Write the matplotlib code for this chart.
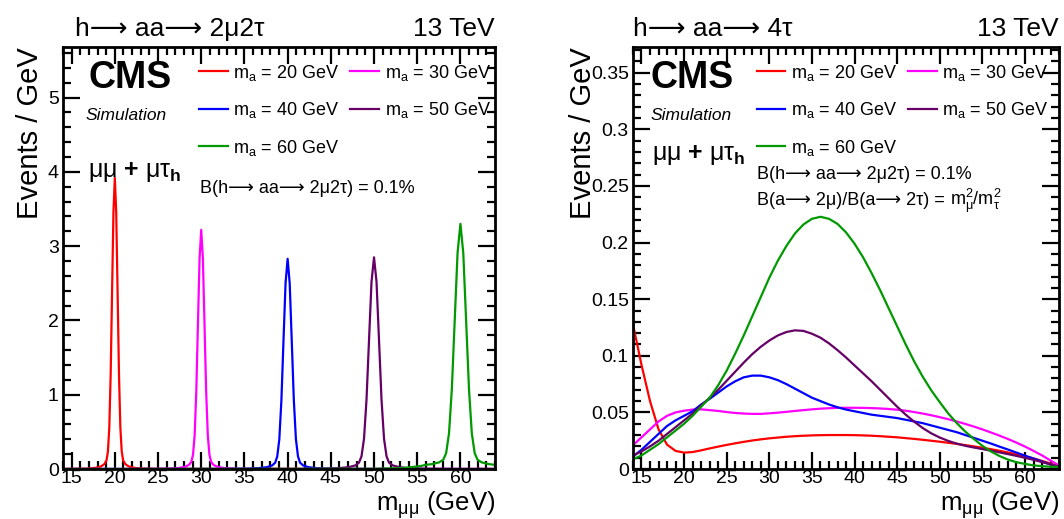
import matplotlib
matplotlib.use('Agg')
import matplotlib.pyplot as plt
from matplotlib.ticker import MultipleLocator, FuncFormatter

plt.rcParams['font.family'] = ['Liberation Sans', 'DejaVu Sans']
plt.rcParams['mathtext.fontset'] = 'custom'
plt.rcParams['mathtext.rm'] = 'Liberation Sans'
plt.rcParams['mathtext.it'] = 'Liberation Sans:italic'
plt.rcParams['mathtext.bf'] = 'Liberation Sans:bold'
plt.rcParams['mathtext.default'] = 'regular'

# --- datos: h -> aa -> 2mu2tau (picos estrechos) ---
x20 = [14, 15.2, 16.8, 17.76, 18.4, 18.8, 19.04, 19.2, 19.36, 19.52, 19.68, 19.84, 20,
       20.16, 20.32, 20.48, 20.64, 20.8, 20.96, 21.2, 21.6, 22.24, 23.2, 24.8, 64]
y20 = [0, 0.002, 0.006, 0.016, 0.035, 0.067, 0.118, 0.235, 0.557, 1.28, 2.38, 3.46, 3.92,
       3.46, 2.38, 1.28, 0.557, 0.235, 0.118, 0.067, 0.035, 0.016, 0.006, 0.002, 0]
x30 = [14, 24.3, 26.2, 27.34, 28.1, 28.575, 28.86, 29.05, 29.24, 29.43, 29.62, 29.81, 30,
       30.19, 30.38, 30.57, 30.76, 30.95, 31.14, 31.425, 31.9, 32.66, 33.8, 35.7, 64]
y30 = [0, 0.0016, 0.005, 0.013, 0.029, 0.055, 0.097, 0.193, 0.457, 1.05, 1.95, 2.84, 3.22,
       2.84, 1.95, 1.05, 0.457, 0.193, 0.097, 0.055, 0.029, 0.013, 0.005, 0.0016, 0]
x40 = [14, 32.8, 35.2, 36.64, 37.6, 38.2, 38.56, 38.8, 39.04, 39.28, 39.52, 39.76, 40,
       40.24, 40.48, 40.72, 40.96, 41.2, 41.44, 41.8, 42.4, 43.36, 44.8, 47.2, 64]
y40 = [0, 0.0014, 0.004, 0.011, 0.025, 0.048, 0.085, 0.17, 0.402, 0.925, 1.72, 2.5, 2.83,
       2.5, 1.72, 0.925, 0.402, 0.17, 0.085, 0.048, 0.025, 0.011, 0.004, 0.0014, 0]
x50 = [14, 41.3, 44.2, 45.94, 47.1, 47.825, 48.26, 48.55, 48.84, 49.13, 49.42, 49.71, 50,
       50.29, 50.58, 50.87, 51.16, 51.45, 51.74, 52.175, 52.9, 54.06, 55.8, 58.7, 64]
y50 = [0, 0.0014, 0.0043, 0.0114, 0.026, 0.048, 0.0855, 0.171, 0.405, 0.93, 1.73, 2.52, 2.85,
       2.52, 1.73, 0.93, 0.405, 0.171, 0.0855, 0.048, 0.026, 0.0114, 0.0043, 0.0014, 0]
x60 = [14, 50.1, 53.4, 55.38, 56, 56.7, 57.525, 58.02, 58.35, 58.68, 59.01, 59.34, 59.67, 60,
       60.33, 60.66, 60.99, 61.32, 61.65, 61.98, 62.475, 63.3, 64]
y60 = [0, 0.003, 0.013, 0.04, 0.056, 0.066, 0.089, 0.125, 0.215, 0.48, 1.08, 2.0, 2.91, 3.3,
       2.91, 2.0, 1.08, 0.48, 0.215, 0.125, 0.089, 0.066, 0.056]

# --- datos: h -> aa -> 4tau (distribuciones anchas), un punto por GeV ---
m_4tau = list(range(14, 65))
r20 = [0.128, 0.092, 0.060, 0.035, 0.0215, 0.016, 0.0145, 0.015, 0.0165, 0.0182, 0.0198,
       0.0213, 0.0227, 0.024, 0.0252, 0.0262, 0.0271, 0.0278, 0.0285, 0.029, 0.0294, 0.0297,
       0.0299, 0.030, 0.030, 0.030, 0.0299, 0.0297, 0.0294, 0.029, 0.0285, 0.028, 0.0273,
       0.0266, 0.0258, 0.025, 0.0241, 0.0232, 0.0222, 0.0211, 0.020, 0.0188, 0.0175, 0.0161,
       0.0146, 0.013, 0.0113, 0.0094, 0.0072, 0.0048, 0.002]
r30 = [0.021, 0.028, 0.035, 0.042, 0.047, 0.050, 0.0515, 0.0525, 0.0527, 0.052, 0.0513,
       0.0503, 0.0495, 0.049, 0.0487, 0.0487, 0.0492, 0.0498, 0.0505, 0.0513, 0.052, 0.0527,
       0.0533, 0.0537, 0.054, 0.0541, 0.0541, 0.054, 0.0538, 0.0535, 0.053, 0.0524, 0.0515,
       0.0503, 0.049, 0.0475, 0.0458, 0.044, 0.042, 0.0398, 0.0375, 0.035, 0.0323, 0.0295,
       0.0265, 0.0233, 0.0198, 0.016, 0.012, 0.0075, 0.003]
r40 = [0.011, 0.017, 0.024, 0.031, 0.038, 0.043, 0.047, 0.051, 0.057, 0.062, 0.0675,
       0.073, 0.0775, 0.081, 0.0825, 0.0825, 0.081, 0.0785, 0.075, 0.071, 0.067, 0.063,
       0.060, 0.057, 0.0545, 0.0525, 0.051, 0.0495, 0.048, 0.047, 0.046, 0.045, 0.0435,
       0.042, 0.0405, 0.0385, 0.0365, 0.0345, 0.0325, 0.030, 0.0275, 0.025, 0.0225, 0.0198,
       0.0172, 0.0145, 0.0118, 0.0092, 0.0066, 0.004, 0.0015]
r50 = [0.012, 0.0155, 0.020, 0.025, 0.031, 0.037, 0.043, 0.049, 0.056, 0.063, 0.070,
       0.078, 0.086, 0.094, 0.1015, 0.108, 0.1135, 0.118, 0.121, 0.1225, 0.122, 0.1195,
       0.116, 0.111, 0.105, 0.0985, 0.0915, 0.0845, 0.0775, 0.070, 0.0625, 0.055, 0.048,
       0.0418, 0.0362, 0.0315, 0.0278, 0.0248, 0.0224, 0.0205, 0.019, 0.0176, 0.0162, 0.0147,
       0.0132, 0.0116, 0.0099, 0.0081, 0.0061, 0.0041, 0.002]
r60 = [0.0085, 0.012, 0.017, 0.022, 0.028, 0.034, 0.040, 0.047, 0.055, 0.063, 0.074,
       0.087, 0.102, 0.118, 0.135, 0.152, 0.169, 0.184, 0.197, 0.208, 0.216, 0.221,
       0.2228, 0.221, 0.2165, 0.209, 0.199, 0.187, 0.173, 0.158, 0.142, 0.126, 0.110,
       0.095, 0.0815, 0.0695, 0.059, 0.049, 0.0405, 0.033, 0.0265, 0.0205, 0.0155, 0.0115,
       0.0083, 0.006, 0.0045, 0.0032, 0.0025, 0.002, 0.0018]

masas = ['20', '30', '40', '50', '60']
colores = ['#ff0000', '#ff00ff', '#0000ff', '#660066', '#009900']


def estilo(ax, ymax, ymaj, ymin):
    ax.set_xlim(14, 64)
    ax.set_ylim(0, ymax)
    ax.xaxis.set_major_locator(MultipleLocator(5))
    ax.xaxis.set_minor_locator(MultipleLocator(1))
    ax.yaxis.set_major_locator(MultipleLocator(ymaj))
    ax.yaxis.set_minor_locator(MultipleLocator(ymin))
    ax.yaxis.set_major_formatter(FuncFormatter(lambda v, p: '%g' % round(v, 3)))
    ax.tick_params(which='both', direction='in', top=True, right=True, width=1.6,
                   labelsize=14)
    ax.tick_params(axis='y', pad=3)
    ax.tick_params(axis='x', pad=1)
    ax.tick_params(which='major', length=12)
    ax.tick_params(which='minor', length=6)
    for s in ax.spines.values():
        s.set_linewidth(2)


def leyenda(ax, x0):
    h = ax.get_lines()
    orden = [0, 2, 4, 1, 3]
    ax.legend([h[i] for i in orden], [r'$m_{a}$ = %s GeV' % masas[i] for i in orden],
              ncol=2, loc='upper left', bbox_to_anchor=(x0, 0.963), frameon=False,
              fontsize=13, handlelength=1.6, handletextpad=0.3, columnspacing=0.6,
              labelspacing=0.97, borderpad=0, borderaxespad=0)


fig = plt.figure(figsize=(10.64, 5.19), dpi=100)
ax1 = fig.add_axes([0.0592, 0.0963, 0.406, 0.813])
ax2 = fig.add_axes([0.5949, 0.0963, 0.4005, 0.813])

# panel izquierdo
for xs, ys, c in zip([x20, x30, x40, x50, x60], [y20, y30, y40, y50, y60], colores):
    ax1.plot(xs, ys, color=c, linewidth=1.6)
estilo(ax1, 5.68, 1, 0.2)
leyenda(ax1, 0.315)

# panel derecho
for ys, c in zip([r20, r30, r40, r50, r60], colores):
    ax2.plot(m_4tau, ys, color=c, linewidth=1.6)
estilo(ax2, 0.3727, 0.05, 0.01)
leyenda(ax2, 0.29)

flecha = '⟶'
for ax, titulo in [(ax1, 'h%s aa%s 2μ2τ' % (flecha, flecha)), (ax2, 'h%s aa%s 4τ' % (flecha, flecha))]:
    ax.text(0.028 if ax is ax1 else 0.0, 1.015, titulo, transform=ax.transAxes,
            fontsize=19, ha='left', va='bottom')
    ax.text(1.0, 1.015, '13 TeV', transform=ax.transAxes, fontsize=19,
            ha='right', va='bottom')
    ax.set_ylabel('Events / GeV', fontsize=21, loc='top')
    ax.set_xlabel(r'$m_{\mu\mu}$ (GeV)', fontsize=18.5, loc='right')
    ax.xaxis.set_label_coords(1.0, -0.047)

ax1.yaxis.set_label_coords(-0.045, 1.0)
ax2.yaxis.set_label_coords(-0.085, 1.0)

ax1.text(0.058, 0.969, 'CMS', transform=ax1.transAxes, fontsize=27, fontweight='bold',
         va='top')
ax1.text(0.053, 0.839, 'Simulation', transform=ax1.transAxes, fontsize=12.5,
         style='italic', va='center')
ax1.text(0.058, 0.704, r'$\mu\mu$ $\mathbf{+}$ $\mu\tau_{\mathbf{h}}$',
         transform=ax1.transAxes, fontsize=18, va='center')
ax1.text(0.317, 0.666, 'B(h%s aa%s 2μ2τ) = 0.1%%' % (flecha, flecha), transform=ax1.transAxes,
         fontsize=13, va='center')

ax2.text(0.040, 0.969, 'CMS', transform=ax2.transAxes, fontsize=27, fontweight='bold',
         va='top')
ax2.text(0.040, 0.839, 'Simulation', transform=ax2.transAxes, fontsize=12.5,
         style='italic', va='center')
ax2.text(0.044, 0.744, r'$\mu\mu$ $\mathbf{+}$ $\mu\tau_{\mathbf{h}}$',
         transform=ax2.transAxes, fontsize=18, va='center')
ax2.text(0.29, 0.697, 'B(h%s aa%s 2μ2τ) = 0.1%%' % (flecha, flecha), transform=ax2.transAxes,
         fontsize=13, va='center')
t2 = ax2.text(0.29, 0.625, 'B(a%s 2μ)/B(a%s 2τ) =' % (flecha, flecha),
              transform=ax2.transAxes, fontsize=13, va='baseline')
ax2.annotate(r'$m_{\mu}^{2}/m_{\tau}^{2}$', xy=(1, 0.625), xycoords=(t2, 'axes fraction'),
             xytext=(4, 0), textcoords='offset points', fontsize=13, va='baseline')

fig.savefig('out.png', dpi=100)
